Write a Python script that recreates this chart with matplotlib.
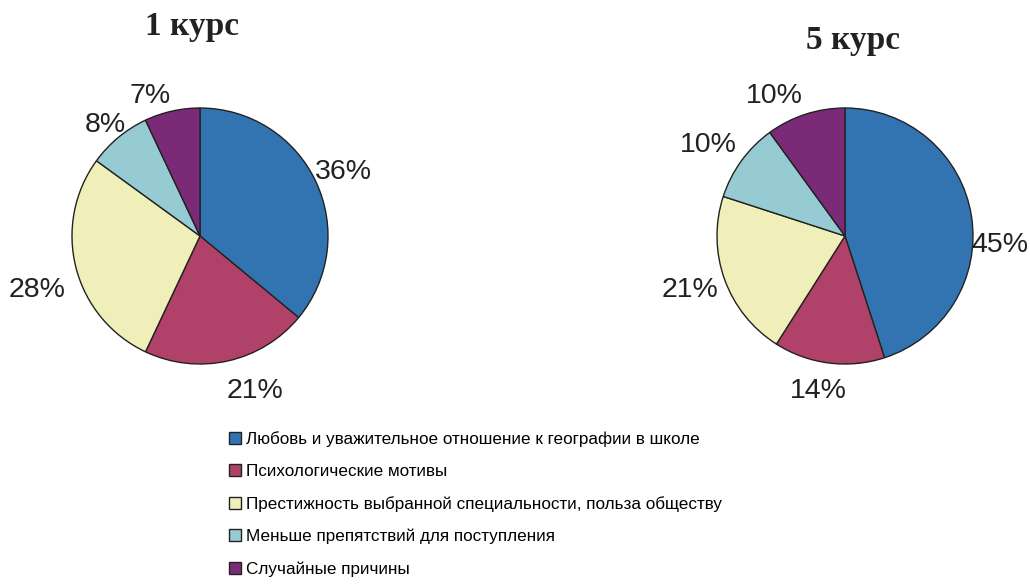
import matplotlib.pyplot as plt
from matplotlib.patches import Patch

plt.rcParams['font.family'] = ['Liberation Sans', 'DejaVu Sans']

categories = [
    'Любовь и уважительное отношение к географии в школе',
    'Психологические мотивы',
    'Престижность выбранной специальности, польза обществу',
    'Меньше препятствий для поступления',
    'Случайные причины',
]
course1 = [36, 21, 28, 8, 7]
course5 = [45, 14, 21, 10, 10]
titles = ['1 курс', '5 курс']
colors = ['#3274b1', '#b0426a', '#f1efb9', '#97cbd3', '#7a2a77']

# where the percentage labels sit, in pie-radius units from the centre
label_pos1 = [(1.12, 0.50), (0.43, -1.21), (-1.27, -0.42), (-0.74, 0.87), (-0.39, 1.09)]
label_pos5 = [(1.21, -0.07), (-0.21, -1.21), (-1.21, -0.42), (-1.07, 0.71), (-0.55, 1.09)]

W, H = 1030, 584
fig = plt.figure(figsize=(W / 100, H / 100), dpi=100)

R = 128  # pie radius in pixels
LIM = 1.45


def pie_axes(cx, cy):
    half = R * LIM
    return fig.add_axes([(cx - half) / W, (H - cy - half) / H, 2 * half / W, 2 * half / H])


for vals, pos, (cx, cy) in zip([course1, course5], [label_pos1, label_pos5],
                               [(200, 236), (845, 236)]):
    ax = pie_axes(cx, cy)
    wedges, texts, autotexts = ax.pie(
        vals, colors=colors, startangle=90, counterclock=False,
        autopct='%d%%', pctdistance=1.25,
        wedgeprops=dict(edgecolor='#222222', linewidth=1.0),
        textprops=dict(fontsize=20.5, color='#222222'))
    for t, p in zip(autotexts, pos):
        t.set_position(p)
    ax.set_xlim(-LIM, LIM)
    ax.set_ylim(-LIM, LIM)
    ax.set_aspect('equal')
    ax.axis('off')

fig.text(192 / W, 1 - 27 / H, titles[0], ha='center', va='center',
         fontsize=24, fontweight='bold', family='Liberation Serif', color='#222222')
fig.text(853 / W, 1 - 41 / H, titles[1], ha='center', va='center',
         fontsize=24, fontweight='bold', family='Liberation Serif', color='#222222')

handles = [Patch(facecolor=c, edgecolor='#222222', linewidth=1.0) for c in colors]
fig.legend(handles, categories, loc='upper left', bbox_to_anchor=(222 / W, 1 - 424 / H),
           frameon=False, fontsize=12.3, handlelength=0.7, handleheight=0.7,
           handletextpad=0.3, labelspacing=1.0, borderaxespad=0)

fig.savefig('out.png', dpi=100)
